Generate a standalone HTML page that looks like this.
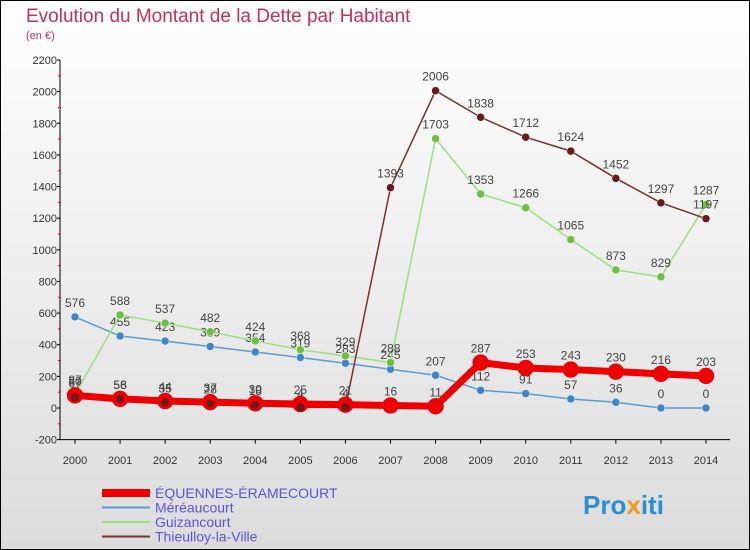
<!DOCTYPE html>
<html><head><meta charset="utf-8"><style>
body{margin:0;width:750px;height:550px;overflow:hidden;font-family:"Liberation Sans",sans-serif}
svg{display:block}
</style></head><body>
<svg width="750" height="550">
<defs><linearGradient id="bg" x1="0" y1="0" x2="0" y2="1"><stop offset="0" stop-color="#ffffff"/><stop offset="1" stop-color="#dcdcdc"/></linearGradient></defs>
<rect x="0" y="0" width="750" height="550" fill="url(#bg)" stroke="#000" stroke-width="2"/>
<text x="26" y="22" font-size="19" fill="#c8305a">Evolution du Montant de la Dette par Habitant</text>
<text x="26" y="39" font-size="11" fill="#c8305a">(en €)</text>
<g id="axes"></g><g id="series"></g><g id="legend"></g>
<text x="583" y="514" font-size="26" font-weight="bold" fill="#2a8fd0">Pro<tspan fill="#f29a1e">x</tspan>iti</text>
</svg>
<script>
const years=[2000,2001,2002,2003,2004,2005,2006,2007,2008,2009,2010,2011,2012,2013,2014];
const yTicks=[-200,0,200,400,600,800,1000,1200,1400,1600,1800,2000,2200];
const equennes=[80,58,44,37,30,25,21,16,11,287,253,243,230,216,203];
const mereaucourt=[576,455,423,389,354,319,283,245,207,112,91,57,36,0,0];
const guizancourt=[87,588,537,482,424,368,329,288,1703,1353,1266,1065,873,829,1287];
const thieulloy=[67,56,35,28,18,4,4,1393,2006,1838,1712,1624,1452,1297,1197];
const names=["ÉQUENNES-ÉRAMECOURT","Méréaucourt","Guizancourt","Thieulloy-la-Ville"];
const NS="http://www.w3.org/2000/svg";
const X=i=>75+i*(706-75)/14;
const Y=v=>408-v*(348/2200);
function mk(t,a,p){const e=document.createElementNS(NS,t);for(const k in a)e.setAttribute(k,a[k]);p.appendChild(e);return e;}
const ax=document.getElementById('axes');
let yl=mk('line',{x1:60,y1:Y(2200),x2:60,y2:Y(-200),stroke:'#000'},ax);


let xl=mk('line',{x1:60,y1:Y(-200),x2:730,y2:Y(-200),stroke:'#000'},ax);


yTicks.forEach((v,k)=>{const t=mk('text',{x:57,y:Y(v)+4,'font-size':11,'text-anchor':'end',fill:'#333'},ax);t.textContent=v;


mk('line',{x1:57,y1:Y(v),x2:60,y2:Y(v),stroke:'#000'},ax);
if(k<yTicks.length-1)mk('line',{x1:58,y1:Y(v+100),x2:61,y2:Y(v+100),stroke:'#e00'},ax);});
years.forEach((y,i)=>{const t=mk('text',{x:X(i),y:464,'font-size':11,'text-anchor':'middle',fill:'#333'},ax);t.textContent=y;


mk('line',{x1:X(i),y1:Y(-200),x2:X(i),y2:Y(-200)+4,stroke:'#000'},ax);});
const se=document.getElementById('series');
const defs=[[mereaucourt,'#5a9bd0','#3d85c6',1.5,4,'mereaucourt'],[guizancourt,'#99e07a','#6cc040',1.5,4,'guizancourt'],[thieulloy,'#7a3030','#6a1a1a',1.5,4,'thieulloy'],[equennes,'#ee0000','#ee0000',7,8,'equennes']];
defs.forEach(([d,lc,pc,w,r,n])=>{
const g=mk('g',{},se);


const p=mk('polyline',{points:d.map((v,i)=>X(i)+','+Y(v)).join(' '),fill:'none',stroke:lc,'stroke-width':w},g);


d.forEach((v,i)=>{const c=mk('circle',{cx:X(i),cy:Y(v),r:r,fill:pc,stroke:n==='equennes'?'#ee0000':'#fff','stroke-width':0.5},g);


const t=mk('text',{x:X(i),y:Y(v)-10,'font-size':12,'text-anchor':'middle',fill:'#444'},g);t.textContent=v;

});
if(n==='equennes'){thieulloy.forEach((v,i)=>{if(i<7){const c2=mk('circle',{cx:X(i),cy:Y(v),r:4,fill:'#6a1a1a'},g);

}});}
});
const lg=document.getElementById('legend');
const lcols=['#ee0000','#5a9bd0','#99e07a','#7a3030'];const lw=[8,2,2,2];
names.forEach((nm,i)=>{const y=493+i*14.5;
const g=mk('g',{},lg);


mk('line',{x1:102,y1:y,x2:150,y2:y,stroke:lcols[i],'stroke-width':lw[i]},g);
const t=mk('text',{x:155,y:y+5,'font-size':14,fill:'#5555dd'},g);t.textContent=nm;});
</script>
</body></html>
